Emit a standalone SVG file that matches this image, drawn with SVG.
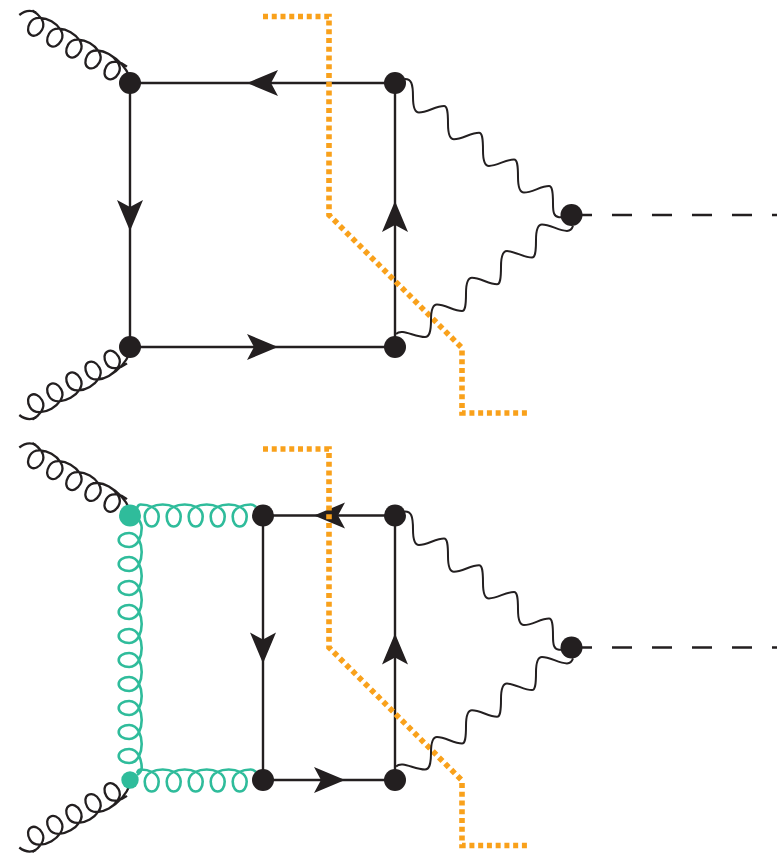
<svg xmlns="http://www.w3.org/2000/svg" xmlns:xlink="http://www.w3.org/1999/xlink" width="777" height="855" viewBox="0 0 777 855">
<style>
.l{fill:none;stroke:#231f20;stroke-width:2.4}
.c{fill:none;stroke:#231f20;stroke-width:2.3}
.g{fill:none;stroke:#2fbc9b;stroke-width:2.6}
.w{fill:none;stroke:#231f20;stroke-width:2}
.d{fill:none;stroke:#231f20;stroke-width:2.3;stroke-dasharray:20 20}
.o{fill:none;stroke:#f9a11b;stroke-width:5.6;stroke-dasharray:5 3.75}
.a{fill:#231f20}
.n{fill:#231f20}
.t{fill:#2fbc9b}
</style>
<defs>
<path id="arrow" d="M0 0L13 31L0 24L-13 31Z"/>
<g id="gluon">
<path class="c" d="M19.300 15C25 10.500 31 10 36 12.500"/>
<path transform="translate(32.400 10.400) rotate(29.700)" class="c" d="M0 0c7 0 18 3 18 12c0 6-3 10-7 10c-4 0-7-4-7-10c0-9 11-12 18-12c7 0 18 3 18 12c0 6-3 10-7 10c-4 0-7-4-7-10c0-9 11-12 18-12c7 0 18 3 18 12c0 6-3 10-7 10c-4 0-7-4-7-10c0-9 11-12 18-12c7 0 18 3 18 12c0 6-3 10-7 10c-4 0-7-4-7-10c0-9 11-12 18-12c7 0 18 3 18 12c0 6-3 10-7 10c-4 0-7-4-7-10c0-9 11-11 18-10M88 0C98 0 108 2 118 10"/>
</g>
<g id="photons">
<path class="w" d="M405 79C411 79 413 83 413 97c0 9 1 15.500 6 15.500c8 0 17-6.500 25-6.500c3 0 4 5 4 17.700c0 9 1 15.500 6 15.500c8 0 17-6.500 25-6.500c3 0 4 5 4 17.700c0 9 1 15.500 6 15.500c8 0 17-6.500 25-6.500c3 0 4 5 4 17.700c0 9 1 15.500 6 15.500c8 0 17-6.500 25-6.500c3 0 4 5 4 17.700c0 9 1 13 6 13.500l8 0"/>
<path class="w" d="M396 334C402 328 414 337 425 337C429 337 431 333 431 320c0-9 1-15.500 6-15.500c8 0 17 6.500 25 6.500c3 0 4-5 4-17.700c0-9 1-15.500 6-15.500c8 0 17 6.500 25 6.500c3 0 4-5 4-17.700c0-9 1-15.500 6-15.500c8 0 17 6.500 25 6.500c3 0 4-5 4-17.700c0-9 1-15.500 6-15.500c8 0 17 6.500 25 6.500c3 0 5-2 6-5"/>
</g>
<path id="cut" class="o" d="M263 16.500H329V215L462 348V413H527"/>
<path id="higgs" class="d" d="M572 215H777"/>
</defs>

<g id="connectors">
  <g id="diagram-top-lines">
    <use xlink:href="#gluon"/>
    <use xlink:href="#gluon" transform="translate(0 430) scale(1 -1)"/>
    <path class="l" d="M130 83H395V347H130Z"/>
    <use xlink:href="#arrow" class="a" transform="translate(247 83) rotate(-90)"/>
    <use xlink:href="#arrow" class="a" transform="translate(130 231) rotate(180)"/>
    <use xlink:href="#arrow" class="a" transform="translate(395 201)"/>
    <use xlink:href="#arrow" class="a" transform="translate(278 347) rotate(90)"/>
    <use xlink:href="#cut"/>
    <use xlink:href="#photons"/>
    <use xlink:href="#higgs"/>
  </g>
  <g id="diagram-bottom-lines">
    <g transform="translate(0 432.500)">
      <use xlink:href="#gluon"/>
      <use xlink:href="#gluon" transform="translate(0 430) scale(1 -1)"/>
    </g>
    <path class="l" d="M263 515.500H395V780H263Z"/>
    <path class="g" d="M137 508C138 505 139 504.500 140.700 504.500c7 0 18 3 18 12c0 6-3 10-7 10c-4 0-7-4-7-10c0-9 11-12 18-12c7 0 18 3 18 12c0 6-3 10-7 10c-4 0-7-4-7-10c0-9 11-12 18-12c7 0 18 3 18 12c0 6-3 10-7 10c-4 0-7-4-7-10c0-9 11-12 18-12c7 0 18 3 18 12c0 6-3 10-7 10c-4 0-7-4-7-10c0-9 11-12 18-12c7 0 18 3 18 12c0 6-3 10-7 10c-4 0-7-4-7-10c0-9 11-12 18-12C252 504.500 254 505 256 507"/>
    <path class="g" d="M137 773C138 770 139 769.500 140.700 769.500c7 0 18 3 18 12c0 6-3 10-7 10c-4 0-7-4-7-10c0-9 11-12 18-12c7 0 18 3 18 12c0 6-3 10-7 10c-4 0-7-4-7-10c0-9 11-12 18-12c7 0 18 3 18 12c0 6-3 10-7 10c-4 0-7-4-7-10c0-9 11-12 18-12c7 0 18 3 18 12c0 6-3 10-7 10c-4 0-7-4-7-10c0-9 11-12 18-12c7 0 18 3 18 12c0 6-3 10-7 10c-4 0-7-4-7-10c0-9 11-12 18-12C252 769.500 254 770 256 772"/>
    <path class="g" d="M137 518C140 521 141.700 524 141.700 528c0 7-3 19-12.500 19c-6 0-10.500-3-10.500-7c0-4 4.500-7 10.500-7c9.500 0 12.500 12 12.500 19c0 7-3 19-12.500 19c-6 0-10.500-3-10.500-7c0-4 4.500-7 10.500-7c9.500 0 12.500 12 12.500 19c0 7-3 19-12.500 19c-6 0-10.500-3-10.500-7c0-4 4.500-7 10.500-7c9.500 0 12.500 12 12.500 19c0 7-3 19-12.500 19c-6 0-10.500-3-10.500-7c0-4 4.500-7 10.500-7c9.500 0 12.500 12 12.500 19c0 7-3 19-12.500 19c-6 0-10.500-3-10.500-7c0-4 4.500-7 10.500-7c9.500 0 12.500 12 12.500 19c0 7-3 19-12.500 19c-6 0-10.500-3-10.500-7c0-4 4.500-7 10.500-7c9.500 0 12.500 12 12.500 19c0 7-3 19-12.500 19c-6 0-10.500-3-10.500-7c0-4 4.500-7 10.500-7c9.500 0 12.500 12 12.500 19c0 7-3 19-12.500 19c-6 0-10.500-3-10.500-7c0-4 4.500-7 10.500-7c9.500 0 12.500 12 12.500 19c0 7-3 19-12.500 19c-6 0-10.500-3-10.500-7c0-4 4.500-7 10.500-7c9.500 0 12.500 12 12.500 19c0 7-3 19-12.500 19c-6 0-10.500-3-10.500-7c0-4 4.500-7 10.500-7c9.500 0 12.500 12 12.500 19C141.700 771 140 773 137 775"/>
    <use xlink:href="#arrow" class="a" transform="translate(314 515.500) rotate(-90)"/>
    <use xlink:href="#arrow" class="a" transform="translate(263 663.500) rotate(180)"/>
    <use xlink:href="#arrow" class="a" transform="translate(395 633.500)"/>
    <use xlink:href="#arrow" class="a" transform="translate(345 780) rotate(90)"/>
    <use xlink:href="#cut" transform="translate(0 432.500)"/>
    <use xlink:href="#photons" transform="translate(0 432.500)"/>
    <use xlink:href="#higgs" transform="translate(0 432.500)"/>
  </g>
</g>

<g id="node-top-tl"><circle class="n" cx="130" cy="83" r="11"/></g>
<g id="node-top-tr"><circle class="n" cx="395" cy="83" r="11"/></g>
<g id="node-top-bl"><circle class="n" cx="130" cy="347" r="11"/></g>
<g id="node-top-br"><circle class="n" cx="395" cy="347" r="11"/></g>
<g id="node-top-h"><circle class="n" cx="571.500" cy="215" r="11"/></g>
<g id="node-bot-tl"><circle class="t" cx="130" cy="515.500" r="11"/></g>
<g id="node-bot-bl"><circle class="t" cx="130" cy="780" r="8.700"/></g>
<g id="node-bot-tm"><circle class="n" cx="263" cy="515.500" r="11"/></g>
<g id="node-bot-bm"><circle class="n" cx="263" cy="780" r="11"/></g>
<g id="node-bot-tr"><circle class="n" cx="395" cy="515.500" r="11"/></g>
<g id="node-bot-br"><circle class="n" cx="395" cy="780" r="11"/></g>
<g id="node-bot-h"><circle class="n" cx="571.500" cy="647.500" r="11"/></g>
</svg>
